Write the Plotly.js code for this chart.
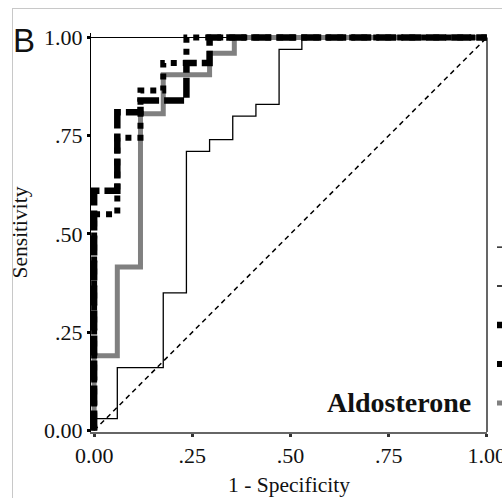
<!DOCTYPE html>
<html>
<head>
<meta charset="utf-8">
<script src="https://cdn.plot.ly/plotly-3.0.1.min.js"></script>
<style>
  html, body { margin: 0; padding: 0; background: #ffffff; }
  #wrap { position: relative; width: 502px; height: 498px; overflow: hidden; }
  #frame { position: absolute; left: 12px; top: 8px; width: 600px; height: 600px;
           border-left: 1px solid #c8c8c8; border-top: 1px solid #c8c8c8; }
  #chart { position: absolute; left: 0; top: 0; width: 502px; height: 498px; }
</style>
</head>
<body>
<div id="wrap">
  <div id="frame"></div>
  <div id="chart"></div>
</div>
<script>
// ---- data ----
// legend labels are cut off at the right edge of the reference, so they stay blank
const seriesNames = [" ", "  ", "   ", "    ", "     "];

// thin black step curve
const thinX = [0, 0, 0.059, 0.059, 0.176, 0.176, 0.235, 0.235, 0.294, 0.294, 0.353, 0.353, 0.412, 0.412, 0.471, 0.471, 0.529, 0.529, 1];
const thinY = [0, 0.03, 0.03, 0.16, 0.16, 0.35, 0.35, 0.71, 0.71, 0.74, 0.74, 0.80, 0.80, 0.83, 0.83, 0.97, 0.97, 1.0, 1.0];

// diagonal reference line
const refX = [0, 1];
const refY = [0, 1];

// thick black, long dashes
const blackAX = [0, 0, 0.059, 0.059, 0.118, 0.118, 0.235, 0.235, 0.294, 0.294, 1];
const blackAY = [0, 0.61, 0.61, 0.81, 0.81, 0.84, 0.84, 0.935, 0.935, 1.0, 1.0];

// thick black, short dashes
const blackBX = [0, 0, 0.059, 0.059, 0.118, 0.118, 0.176, 0.176, 0.235, 0.235, 1];
const blackBY = [0, 0.55, 0.55, 0.745, 0.745, 0.865, 0.865, 0.935, 0.935, 1.0, 1.0];

// thick gray curve
const grayX = [0, 0, 0.059, 0.059, 0.118, 0.118, 0.176, 0.176, 0.294, 0.294, 0.357, 0.357, 1];
const grayY = [0, 0.19, 0.19, 0.416, 0.416, 0.806, 0.806, 0.905, 0.905, 0.96, 0.96, 1.0, 1.0];

const tickVals = [0, 0.25, 0.5, 0.75, 1];
const tickText = ["0.00", ".25", ".50", ".75", "1.00"];

// ---- chart ----
const serif = "Liberation Serif, Times New Roman, serif";
const traces = [
  { x: thinX, y: thinY, name: seriesNames[0], mode: "lines", legendrank: 1,
    line: { color: "#000000", width: 1.3 } },
  { x: refX, y: refY, name: seriesNames[1], mode: "lines", legendrank: 2,
    line: { color: "#000000", width: 1.5, dash: "5px,4px" } },
  { x: grayX, y: grayY, name: seriesNames[4], mode: "lines", legendrank: 5,
    line: { color: "#808080", width: 5 } },
  { x: blackBX, y: blackBY, name: seriesNames[3], mode: "lines", legendrank: 4,
    line: { color: "#000000", width: 6, dash: "6px,6px" } },
  { x: blackAX, y: blackAY, name: seriesNames[2], mode: "lines", legendrank: 3,
    line: { color: "#000000", width: 6.5, dash: "20px,5px" } }
];

const layout = {
  width: 502, height: 498,
  margin: { l: 91, r: 15, t: 33, b: 66, autoexpand: false },
  paper_bgcolor: "rgba(0,0,0,0)",
  plot_bgcolor: "#ffffff",
  showlegend: true,
  legend: { x: 1.0126, xanchor: "left", y: 0.525, yanchor: "top",
            font: { family: serif, size: 27.7, color: "#000" },
            bgcolor: "rgba(0,0,0,0)", traceorder: "normal" },
  xaxis: {
    range: [-0.008, 1.0005], tickmode: "array", tickvals: tickVals, ticktext: tickText,
    ticklabeloverflow: "allow",
    showgrid: false, zeroline: false, showline: true, linecolor: "#666666", linewidth: 2,
    ticks: "outside", ticklen: 3, tickwidth: 3, tickcolor: "#333",
    tickfont: { family: serif, size: 22, color: "#111" },
    title: { text: "1 - Specificity", font: { family: serif, size: 21.5, color: "#111" }, standoff: 10 }
  },
  yaxis: {
    range: [-0.004, 1.0115], tickmode: "array", tickvals: tickVals, ticktext: tickText,
    ticklabeloverflow: "allow",
    showgrid: false, zeroline: false, showline: true, linecolor: "#000000", linewidth: 1,
    ticks: "outside", ticklen: 3, tickwidth: 3, tickcolor: "#000",
    tickfont: { family: serif, size: 22, color: "#111" },
    title: { text: "Sensitivity", font: { family: serif, size: 21.5, color: "#111" }, standoff: 10 }
  },
  shapes: [
    { type: "line", xref: "paper", yref: "y", x0: 0, x1: 1, y0: 1, y1: 1,
      line: { color: "#000", width: 1.2 }, layer: "below" },
    { type: "line", xref: "paper", yref: "y", x0: 1, x1: 1, y0: -0.004, y1: 1,
      line: { color: "#000", width: 1.2 }, layer: "below" }
  ],
  annotations: [
    { text: "Aldosterone", xref: "paper", yref: "paper", x: 0.965, y: 0.0727,
      xanchor: "right", yanchor: "middle", showarrow: false,
      font: { family: serif, size: 28, color: "#111", weight: "bold" } },
    { text: "B", xref: "paper", yref: "paper", x: -0.203, y: 0.982,
      xanchor: "left", yanchor: "middle", showarrow: false,
      font: { family: "Liberation Sans, Arial, sans-serif", size: 33, color: "#111" } }
  ]
};

Plotly.newPlot("chart", traces, layout, { staticPlot: true, displayModeBar: false });
</script>
</body>
</html>
